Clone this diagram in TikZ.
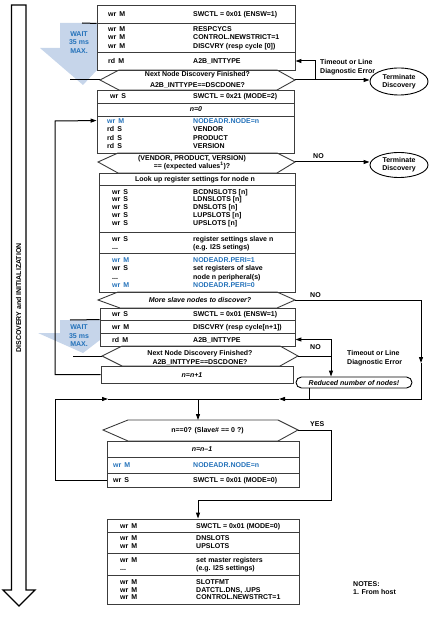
\documentclass[tikz,border=0pt]{standalone}
\usepackage{fontspec}
\setmainfont{Liberation Sans}
\usetikzlibrary{arrows.meta,shapes.geometric}
\definecolor{adiblue}{RGB}{36,114,186}
\definecolor{waitfill}{RGB}{198,213,234}
\definecolor{boxc}{RGB}{60,60,60}
\newcommand\Tx[5][]{\node[lab,#1] (#2) at (#3,{#4+2.5}) {#5};}
\newcommand\Tc[5][]{\node[lab,anchor=base,#1] (#2) at (#3,{#4+2.5}) {#5};}
\newcommand\rbox[5]{\node[rowbox,minimum width={#4-#2},minimum height={#5-#3}] (#1) at ({(#2+#4)/2},{(#3+#5)/2}) {};}
\newcommand\WR[1]{wr\,\ #1}
\newcommand\RD[1]{rd\,\ #1}
\begin{document}
\begin{tikzpicture}[x=1pt,y=-1pt,
 rowbox/.style={draw=boxc,line width=0.9pt,inner sep=0pt,rectangle},
 lab/.style={font=\fontsize{7}{8.3}\selectfont\bfseries,inner sep=0pt,anchor=base west},
 itl/.style={font=\fontsize{7}{8.3}\selectfont\bfseries\itshape},
 blu/.style={text=adiblue},
 conn/.style={draw=black,line width=1pt},
 arr/.style={conn,-{Triangle[length=6pt,width=4pt]}},
 hexa/.style={draw=boxc,line width=0.9pt,line join=miter},
 term/.style={ellipse,draw=black,line width=0.9pt,minimum width=58pt,inner sep=0pt,align=center,font=\fontsize{7}{8.3}\selectfont\bfseries},
 waitsh/.style={fill=waitfill,draw=none},
 bigarrow/.style={draw=black,line width=1.4pt,line join=miter}]
\useasboundingbox (0,0) rectangle (430,617);

% ---------- big left arrow ----------
\draw[bigarrow] (11.5,5) -- (26,5) -- (26,590) -- (35,590) -- (19,606) -- (3,590) -- (11.5,590) -- cycle;
\node[lab,anchor=center,rotate=90] (dlab) at (18.5,298) {DISCOVERY and INITIALIZATION};

% ---------- wait shapes ----------
\fill[waitsh] (60,23) -- (97,23) -- (97,70) -- (83,85) -- (40,48) -- (60,48) -- cycle;
\Tc[blu]{w1a}{79}{34}{WAIT}
\Tc[blu]{w1b}{79}{42.5}{35 ms}
\Tc[blu]{w1c}{79}{51}{MAX.}
\fill[waitsh] (60,320) -- (100,320) -- (100,340) -- (83,353) -- (38,333) -- (60,333) -- cycle;
\Tc[blu]{w2a}{79}{327}{WAIT}
\Tc[blu]{w2b}{79}{335.5}{35 ms}
\Tc[blu]{w2c}{79}{344}{MAX.}

% ---------- box 1 ----------
\rbox{b1a}{97}{5}{295}{23}
\rbox{b1b}{97}{23}{295}{52}
\rbox{b1c}{97}{52}{295}{70}
\Tx{t1a}{108}{14}{\WR{M}}   \Tx{v1a}{193}{14}{SWCTL = 0x01 (ENSW=1)}
\Tx{t1b}{108}{29.3}{\WR{M}} \Tx{v1b}{193}{29.3}{RESPCYCS}
\Tx{t1c}{108}{37.5}{\WR{M}} \Tx{v1c}{193}{37.5}{CONTROL.NEWSTRICT=1}
\Tx{t1d}{108}{45.7}{\WR{M}} \Tx{v1d}{193}{45.7}{DISCVRY (resp cycle [0])}
\Tx{t1e}{108}{61}{\RD{M}}   \Tx{v1e}{193}{61}{A2B\_INTTYPE}
\coordinate (w1s) at (82,23);
\draw[conn] (w1s) -- (b1a.south west);

% ---------- decision 1 ----------
\coordinate (d1l) at (100,80); \coordinate (d1r) at (295,80);
\draw[hexa] (d1l) -- (119,70) -- (277,70) -- (d1r) -- (277,90) -- (119,90) -- cycle;
\Tc{d1a}{197.5}{74.5}{Next Node Discovery Finished?}
\Tc{d1b}{197.5}{85}{A2B\_INTTYPE==DSCDONE?}
\coordinate (w1e) at (70,80);
\draw[conn] (w1e) -- (d1l);
\node[term,minimum height=27pt] (term1) at (399,81.5) {Terminate\\Discovery};
\draw[arr] (d1r) -- (d1r -| term1.west);
\coordinate (to1) at (315,80);
\draw[arr] (to1) |- (b1c.east);
\Tx{tl1a}{320}{62}{Timeout or Line}
\Tx{tl1b}{320}{71}{Diagnostic Error}

% ---------- box 2 ----------
\rbox{b2a}{97}{90}{294}{103}
\rbox{b2b}{97}{103}{294}{116}
\rbox{b2c}{97}{116}{294}{153}
\Tx{t2a}{110}{96.5}{\WR{S}} \Tx{v2a}{193}{96.5}{SWCTL = 0x21 (MODE=2)}
\Tc[itl]{v2b}{196}{109.5}{n=0}
\Tx[blu]{t2c}{107}{121}{\WR{M}} \Tx[blu]{v2c}{193}{121}{NODEADR.NODE=n}
\Tx{t2d}{107}{129.5}{\RD{S}} \Tx{v2d}{193}{129.5}{VENDOR}
\Tx{t2e}{107}{137.8}{\RD{S}} \Tx{v2e}{193}{137.8}{PRODUCT}
\Tx{t2f}{107}{146.5}{\RD{S}} \Tx{v2f}{193}{146.5}{VERSION}

% ---------- decision 2 ----------
\coordinate (d2l) at (98,162); \coordinate (d2r) at (295,162);
\draw[hexa] (d2l) -- (118,153) -- (277,153) -- (d2r) -- (277,173) -- (118,173) -- cycle;
\Tc{d2a}{192}{157.8}{(VENDOR, PRODUCT, VERSION)}
\Tc{d2b}{192}{166.2}{== (expected values\textsuperscript{1})?}
\node[term,minimum height=25pt] (term2) at (399,165) {Terminate\\Discovery};
\draw[arr] (d2r) -- (d2r -| term2.west);
\Tx{no1}{313}{156.5}{NO}

% ---------- box 3 ----------
\rbox{b3a}{99}{173}{295}{185}
\rbox{b3b}{99}{185}{295}{232}
\rbox{b3c}{99}{232}{295}{253}
\rbox{b3d}{99}{253}{295}{292}
\Tc{v3a}{195}{179}{Look up register settings for node n}
\Tx{t3b}{112}{191.7}{\WR{S}} \Tx{v3b}{193}{191.7}{BCDNSLOTS [n]}
\Tx{t3c}{112}{199.5}{\WR{S}} \Tx{v3c}{193}{199.5}{LDNSLOTS [n]}
\Tx{t3d}{112}{207.3}{\WR{S}} \Tx{v3d}{193}{207.3}{DNSLOTS [n]}
\Tx{t3e}{112}{215.1}{\WR{S}} \Tx{v3e}{193}{215.1}{LUPSLOTS [n]}
\Tx{t3f}{112}{223.2}{\WR{S}} \Tx{v3f}{193}{223.2}{UPSLOTS [n]}
\Tx{t3g}{112}{239.3}{\WR{S}} \Tx{v3g}{193}{239.3}{register settings slave n}
\Tx{t3h}{112}{247.5}{...}    \Tx{v3h}{193}{247.5}{(e.g. I2S setings)}
\Tx[blu]{t3i}{112}{260}{\WR{M}} \Tx[blu]{v3i}{193}{260}{NODEADR.PERI=1}
\Tx{t3j}{112}{268.3}{\WR{S}} \Tx{v3j}{193}{268.3}{set registers of slave}
\Tx{t3k}{112}{276.7}{...}    \Tx{v3k}{193}{276.7}{node n peripheral(s)}
\Tx[blu]{t3l}{112}{285}{\WR{M}} \Tx[blu]{v3l}{193}{285}{NODEADR.PERI=0}

% ---------- decision 3 ----------
\coordinate (d3l) at (98,300); \coordinate (d3r) at (295,300);
\draw[hexa] (d3l) -- (118,292) -- (277,292) -- (d3r) -- (277,308) -- (120,308) -- cycle;
\Tc[itl]{d3a}{200}{300}{More slave nodes to discover?}
\Tx{no2}{310}{295}{NO}

% ---------- box 4 ----------
\rbox{b4a}{100}{308}{295}{320}
\rbox{b4b}{100}{320}{295}{333}
\rbox{b4c}{100}{333}{295}{346}
\Tx{t4a}{112}{314}{\WR{S}} \Tx{v4a}{193}{314}{SWCTL = 0x01 (ENSW=1)}
\Tx{t4b}{112}{326.5}{\WR{M}} \Tx{v4b}{193}{326.5}{DISCVRY (resp cycle[n+1])}
\Tx{t4c}{112}{339.5}{\RD{M}} \Tx{v4c}{193}{339.5}{A2B\_INTTYPE}
\coordinate (w2s) at (70,320);
\draw[conn] (w2s) -- (b4b.north west);

% ---------- decision 4 ----------
\coordinate (d4l) at (102,356); \coordinate (d4r) at (298,356);
\draw[hexa] (d4l) -- (122,346) -- (280,346) -- (d4r) -- (280,366) -- (122,366) -- cycle;
\Tc{d4a}{200}{353}{Next Node Discovery Finished?}
\Tc{d4b}{200}{361.5}{A2B\_INTTYPE==DSCDONE?}
\coordinate (w2e) at (73,356);
\draw[conn] (w2e) -- (d4l);

% ---------- n=n+1 ----------
\rbox{bn1}{101}{366}{293}{383}
\Tc[itl]{vn1}{192}{375}{n=n+1}
\coordinate (lp1) at (55,121);
\draw[arr] (bn1.west) -| (lp1) -- ([yshift=-5pt]b2c.north west);

% ---------- timeout / reduced ----------
\node[draw=black,line width=0.9pt,rounded corners=5.5pt,minimum width=116pt,minimum height=11pt,inner sep=0pt,font=\fontsize{7}{8.3}\selectfont\bfseries\itshape] (red) at (354,382.5) {Reduced number of nodes!};
\coordinate (to2) at (331,356);
\draw[conn] (d4r) -- (to2);
\draw[arr] (to2) -- (to2 |- red.north);
\draw[arr] (to2) |- (b4c.east);
\Tx{no3}{310}{347.3}{NO}
\Tx{tl2a}{347}{353}{Timeout or Line}
\Tx{tl2b}{347}{361.5}{Diagnostic Error}

% ---------- merge line ----------
\coordinate (mj) at (198,399);
\coordinate (m2) at (309,399);
\draw[conn] (red.south -| m2) -- (m2);
\coordinate (rc1) at (421,300); \coordinate (rc2) at (421,363);
\coordinate (rc3) at (421,399); \coordinate (a3) at (279,399);
\draw[arr] (d3r) -- (rc1) -- (rc2);
\draw[arr] (rc2) -- (rc3) -- (a3);
\draw[conn] (a3) -- (mj);
\coordinate (lp2) at (55,399); \coordinate (a2) at (108,399);

% ---------- box 5 ----------
\rbox{b5a}{107}{441}{299}{457}
\rbox{b5b}{107}{457}{299}{473}
\rbox{b5c}{107}{473}{299}{487}
\Tc[itl]{v5a}{202}{449}{n=n\textendash1}
\Tx[blu]{t5b}{113}{465}{\WR{M}} \Tx[blu]{v5b}{193}{465}{NODEADR.NODE=n}
\Tx{t5c}{113}{480}{\WR{S}} \Tx{v5c}{193}{480}{SWCTL = 0x01 (MODE=0)}
\draw[arr] (b5c.west) -| (lp2) -- (a2);
\draw[conn] (a2) -- (mj);

% ---------- decision 5 ----------
\coordinate (d5l) at (103,430); \coordinate (d5r) at (298,430);
\coordinate (d5t) at (198,420);
\draw[hexa] (d5l) -- (128,420) -- (278,420) -- (d5r) -- (278,441) -- (128,441) -- cycle;
\Tc{d5a}{207.5}{430}{n==0? (Slave\# == 0 ?)}
\draw[arr] (mj) -- (d5t);
\Tx{yes1}{310}{424}{YES}

% ---------- box 6 ----------
\rbox{b6a}{107}{519}{299}{532}
\rbox{b6b}{107}{532}{299}{553}
\rbox{b6c}{107}{553}{299}{575}
\rbox{b6d}{107}{575}{299}{604}
\Tx{t6a}{120}{526}{\WR{M}} \Tx{v6a}{196}{526}{SWCTL = 0x01 (MODE=0)}
\Tx{t6b}{120}{538}{\WR{M}} \Tx{v6b}{196}{538}{DNSLOTS}
\Tx{t6c}{120}{546}{\WR{M}} \Tx{v6c}{196}{546}{UPSLOTS}
\Tx{t6d}{120}{560}{\WR{M}} \Tx{v6d}{196}{560}{set master registers}
\Tx{t6e}{120}{567.5}{...}  \Tx{v6e}{196}{567.5}{(e.g. I2S settings)}
\Tx{t6f}{120}{582}{\WR{M}} \Tx{v6f}{196}{582}{SLOTFMT}
\Tx{t6g}{120}{589.5}{\WR{M}} \Tx{v6g}{196}{589.5}{DATCTL.DNS, .UPS}
\Tx{t6h}{120}{597}{\WR{M}} \Tx{v6h}{196}{597}{CONTROL.NEWSTRCT=1}
\coordinate (y1) at (331,430); \coordinate (y2) at (331,500); \coordinate (y3) at (198,500);
\draw[arr] (d5r) -- (y1) -- (y2) -- (y3) -- (b6a.north -| y3);

% ---------- notes ----------
\Tx{n1}{353}{584}{NOTES:}
\Tx{n2}{353}{592}{1. From host}
\end{tikzpicture}
\end{document}
